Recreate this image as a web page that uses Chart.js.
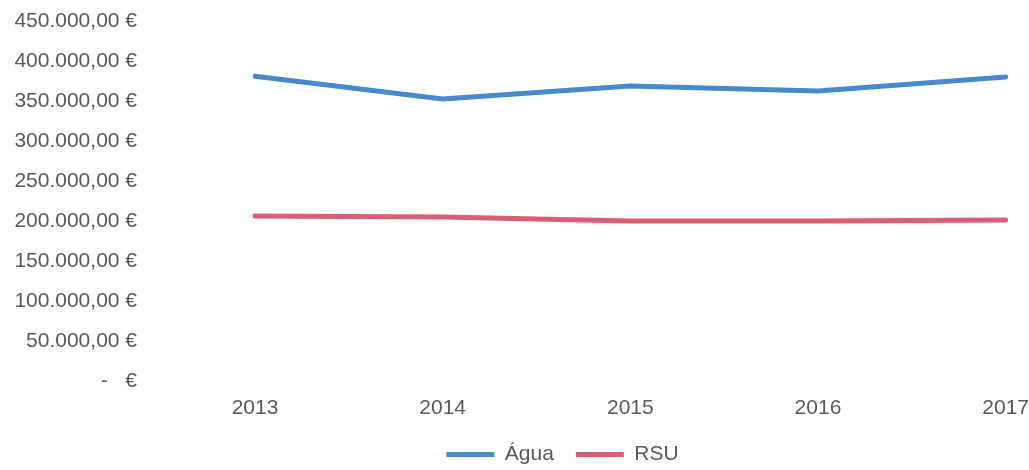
<!DOCTYPE html>
<html>
<head>
<meta charset="utf-8">
<script src="https://cdn.jsdelivr.net/npm/chart.js@4"></script>
<style>
  html, body { margin: 0; padding: 0; background: #fff; }
  #wrap { width: 1029px; height: 470px; }
</style>
</head>
<body>
<div id="wrap"><canvas id="chart"></canvas></div>
<script>
// data
const years = ['2013', '2014', '2015', '2016', '2017'];
const agua = [381000, 352500, 368750, 362500, 380000];
const rsu = [206250, 205000, 200000, 200000, 201250];
const seriesNames = ['Água', 'RSU'];

const yMin = 0;
const yMax = 450000;
const yStep = 50000;

const textColor = '#595959';
const font = { family: '"Liberation Sans", Arial, sans-serif', size: 21 };

// accounting style: 450.000,00 € and "-   €" for zero
function euro(v) {
  if (v === 0) return '-\u00a0\u00a0\u00a0€';
  const s = Math.round(v).toString().replace(/\B(?=(\d{3})+(?!\d))/g, '.');
  return s + ',00 €';
}

// the original legend sits a bit right of the page centre
const legendShift = {
  id: 'legendShift',
  afterLayout(chart) {
    const lg = chart.legend;
    if (!lg) return;
    lg.left += 59;
    lg.right += 59;
  },
};

new Chart(document.getElementById('chart'), {
  type: 'line',
  data: {
    labels: years,
    datasets: [
      {
        label: seriesNames[0],
        data: agua,
        borderColor: '#4689cf',
        backgroundColor: '#4689cf',
        borderWidth: 5,
        borderCapStyle: 'round',
        borderJoinStyle: 'round',
        pointRadius: 0,
        tension: 0,
      },
      {
        label: seriesNames[1],
        data: rsu,
        borderColor: '#db5e72',
        backgroundColor: '#db5e72',
        borderWidth: 5,
        borderCapStyle: 'round',
        borderJoinStyle: 'round',
        pointRadius: 0,
        tension: 0,
      },
    ],
  },
  options: {
    responsive: true,
    maintainAspectRatio: false,
    animation: false,
    layout: { padding: { left: 0, right: 22, top: 21, bottom: -5 } },
    plugins: {
      tooltip: { enabled: false },
      legend: {
        position: 'bottom',
        labels: {
          color: textColor,
          font: font,
          usePointStyle: true,
          pointStyle: 'line',
          pointStyleWidth: 48,
          padding: 22,
        },
      },
    },
    scales: {
      x: {
        // tickLength (not padding) keeps the gap out of the side padding
        grid: { display: false, drawTicks: true, tickLength: 15 },
        border: { display: false },
        ticks: { color: textColor, font: font, padding: 0, maxRotation: 0 },
        afterFit: (scale) => { scale.height = 41; },
      },
      y: {
        min: yMin,
        max: yMax,
        grid: { display: false, drawTicks: true, tickLength: 118 },
        border: { display: false },
        ticks: {
          stepSize: yStep,
          color: textColor,
          font: font,
          padding: 0,
          callback: (v) => euro(v),
        },
        afterFit: (scale) => { scale.width = 255; },
      },
    },
  },
  plugins: [legendShift],
});
</script>
</body>
</html>
